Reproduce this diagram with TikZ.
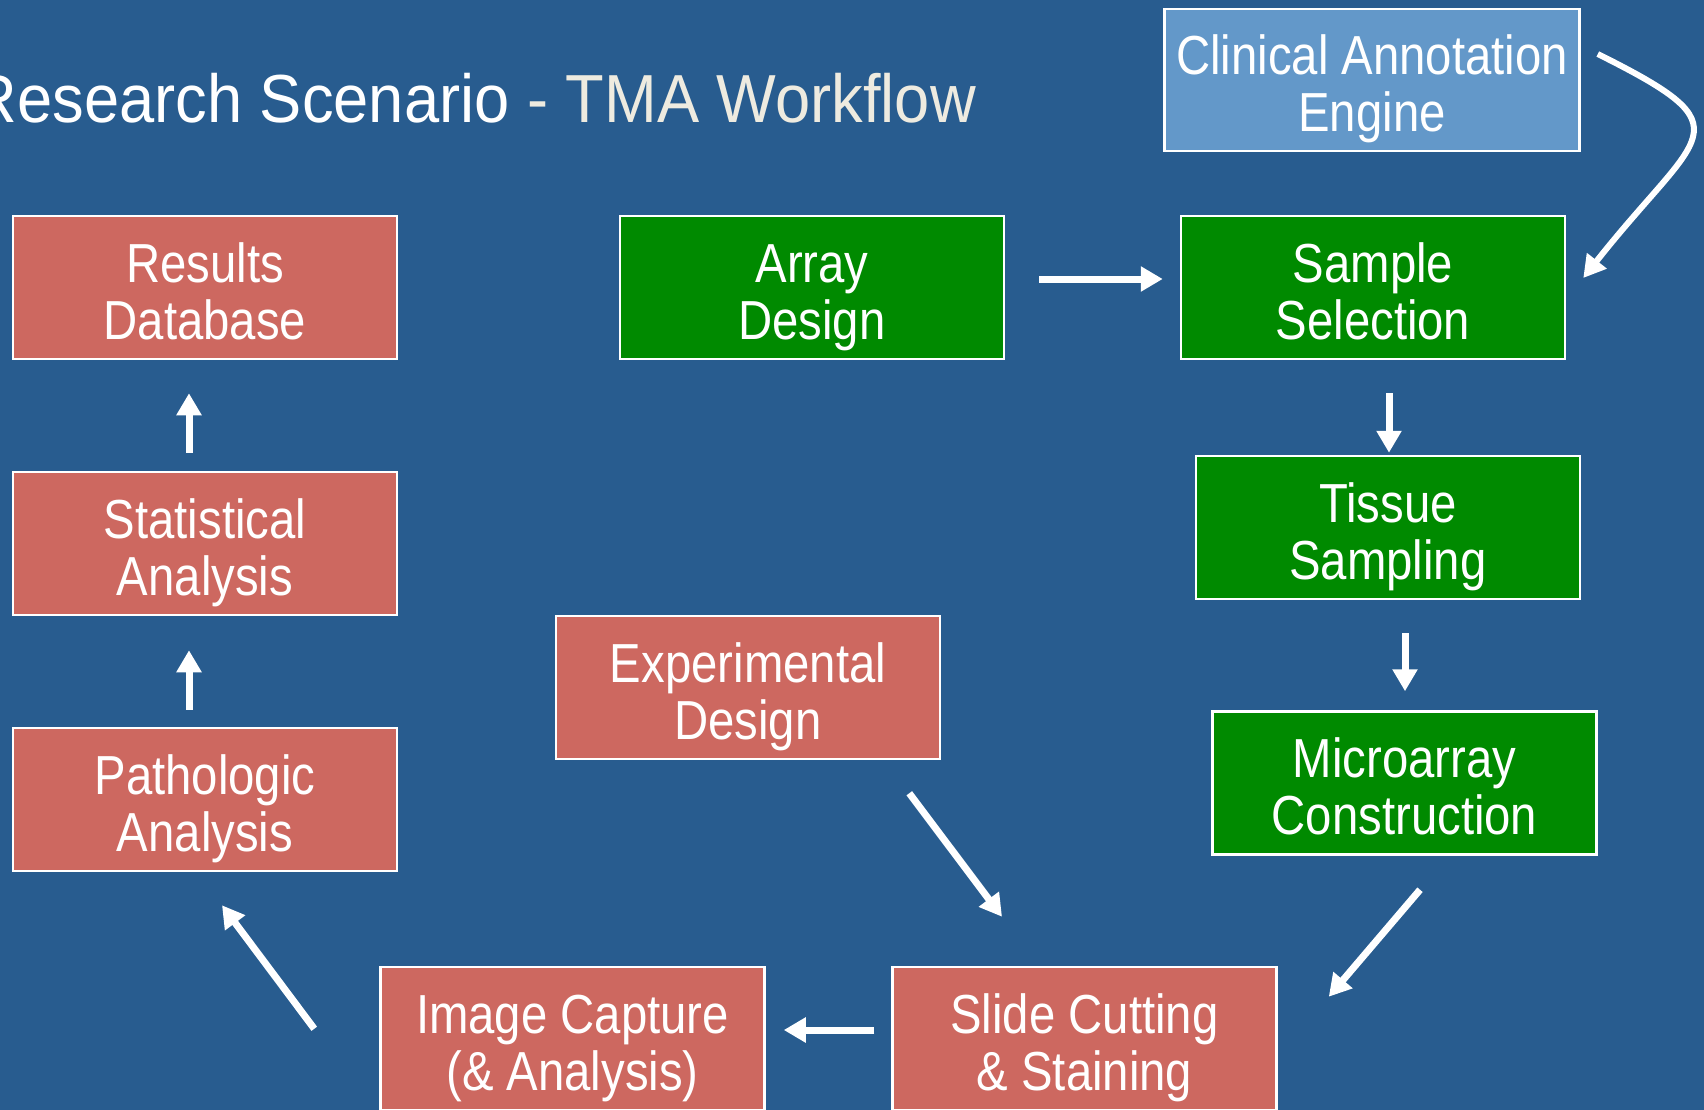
\documentclass[tikz,border=0pt]{standalone}
\usepackage{fontspec}
\setmainfont{Liberation Sans}[FakeStretch=0.86]
\newfontfamily\titlefont{Liberation Sans}[FakeStretch=0.93]
\usetikzlibrary{arrows.meta}
\definecolor{bg}{RGB}{40,92,143}
\definecolor{redbox}{RGB}{205,104,96}
\definecolor{greenbox}{RGB}{0,138,0}
\definecolor{bluebox}{RGB}{99,152,201}
\definecolor{cream}{RGB}{238,235,224}
\newcommand{\twol}[2]{\rule{0pt}{58pt}#1\\#2\rule[-12pt]{0pt}{12pt}}
\tikzset{
  box/.style={draw=white, line width=2.5pt, minimum width=384pt, minimum height=143pt,
    text=white, font=\fontsize{55}{57}\selectfont, align=center, inner sep=0pt},
  redb/.style={box, fill=redbox},
  greenb/.style={box, fill=greenbox},
  blueb/.style={box, fill=bluebox, minimum width=415pt, minimum height=142pt},
  arr/.style={draw=white, line width=7pt, -{Triangle[width=24pt,length=22pt]}},
  carr/.style={draw=white, line width=6pt, -{Triangle[width=24pt,length=22pt]}}
}
\begin{document}
\begin{tikzpicture}[x=1pt,y=-1pt]
\fill[bg] (0,0) rectangle (1704,1110);
\useasboundingbox (0,0) rectangle (1704,1110);
\clip (0,0) rectangle (1704,1110);

\node[anchor=base east, inner sep=0pt, text=white, font=\titlefont\fontsize{68}{80}\selectfont] (title) at (976,123)
  {Research Scenario \textcolor{cream}{- TMA Workflow}};

\node[blueb] (ca) at (1372,80) {\twol{Clinical Annotation}{Engine}};
\node[redb] (rd) at (205,287.5) {\twol{Results}{Database}};
\node[redb] (sa) at (205,543.5) {\twol{Statistical}{Analysis}};
\node[redb] (pa) at (205,799.5) {\twol{Pathologic}{Analysis}};
\node[greenb] (ad) at (812,287.5) {\twol{Array}{Design}};
\node[greenb] (ss) at (1373,287.5) {\twol{Sample}{Selection}};
\node[greenb] (ts) at (1388,527.5) {\twol{Tissue}{Sampling}};
\node[greenb] (mc) at (1404.5,783) {\twol{Microarray}{Construction}};
\node[redb] (ed) at (748,687.5) {\twol{Experimental}{Design}};
\node[redb] (sc) at (1084.5,1038.5) {\twol{Slide Cutting}{\& Staining}};
\node[redb] (ic) at (572.5,1038.5) {\twol{Image Capture}{(\& Analysis)}};

\draw[arr] ([shift={(34,-8.5)}]ad.east) -- ([shift={(-17,-8.5)}]ss.west);
\draw[arr] ([shift={(16,33)}]ss.south) -- ([shift={(1,-2)}]ts.north);
\draw[arr] ([shift={(17,33)}]ts.south) -- ([shift={(0.5,-19)}]mc.north);
\draw[arr] ([shift={(15.5,34)}]mc.south) -- ([shift={(51,31)}]sc.north east);
\draw[arr] ([shift={(-32,33)}]ed.south east) -- ([shift={(-82.5,-49)}]sc.north);
\draw[arr] ([shift={(-17,-8.5)}]sc.west) -- ([shift={(18,-8.5)}]ic.east);
\draw[arr] ([shift={(-65,63)}]ic.north west) -- ([shift={(17,33)}]pa.south);
\draw[arr] ([shift={(-16,-17)}]pa.north) -- ([shift={(-16,34)}]sa.south);
\draw[arr] ([shift={(-16,-18)}]sa.north) -- ([shift={(-16,33)}]rd.south);
\draw[carr] ([shift={(17,-26)}]ca.east) .. controls (1750,130) and (1700,130) .. ([shift={(17,-9.5)}]ss.east);
\end{tikzpicture}
\end{document}
